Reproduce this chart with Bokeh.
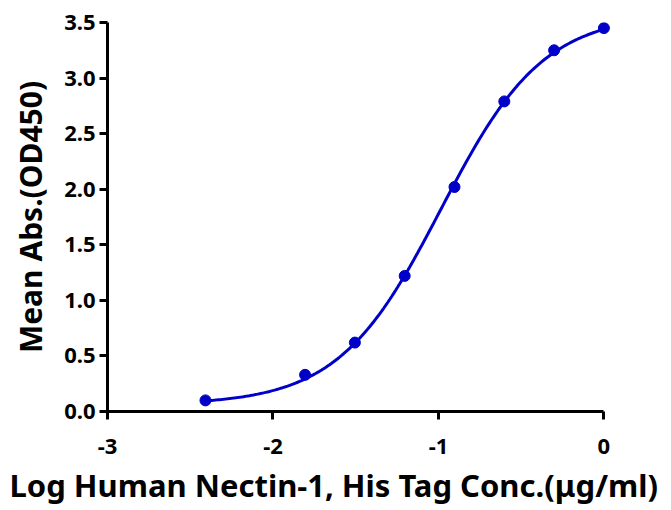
from bokeh.plotting import figure
from bokeh.models import FixedTicker, Range1d, Title
from bokeh.embed import file_html
from bokeh.resources import INLINE
import numpy as np

# ---- data ----
log_conc = [-2.408, -1.806, -1.505, -1.204, -0.903, -0.602, -0.301, 0.0]
mean_abs = [0.10, 0.33, 0.62, 1.22, 2.02, 2.79, 3.25, 3.45]

# 4-parameter logistic fit parameters (estimated)
fit_bottom = 0.06
fit_top = 3.58
fit_log_ec50 = -0.985
fit_hill = 1.4

x_ticks = [-3, -2, -1, 0]
x_tick_labels = ["-3", "-2", "-1", "0"]
y_ticks = [0.0, 0.5, 1.0, 1.5, 2.0, 2.5, 3.0, 3.5]
y_tick_labels = ["0.0", "0.5", "1.0", "1.5", "2.0", "2.5", "3.0", "3.5"]

x_title = "Log Human Nectin-1, His Tag Conc.(\u03bcg/ml)"
y_title = "Mean Abs.(OD450)"

BLUE = "#0000C8"
FONT = "Noto Sans"

p = figure(width=671, height=510, output_backend="svg", toolbar_location=None,
           x_range=Range1d(-3, 0.07), y_range=Range1d(0, 3.5),
           min_border_left=107, min_border_right=56, min_border_top=22, min_border_bottom=99)
p.outline_line_color = None
p.grid.visible = False
p.background_fill_color = "white"
p.border_fill_color = "white"

xs = np.linspace(min(log_conc), max(log_conc), 200)
ys = fit_bottom + (fit_top - fit_bottom) / (1 + 10 ** ((fit_log_ec50 - xs) * fit_hill))
p.line(xs, ys, line_color=BLUE, line_width=3)
p.scatter(log_conc, mean_abs, size=11, fill_color=BLUE, line_color=BLUE)

for ax in (p.xaxis[0], p.yaxis[0]):
    ax.axis_line_width = 3
    ax.axis_line_color = "black"
    ax.major_tick_line_width = 3
    ax.major_tick_line_color = "black"
    ax.major_tick_out = 8
    ax.major_tick_in = 0
    ax.minor_tick_line_color = None
    ax.major_label_text_font = FONT
    ax.major_label_text_font_style = "bold"
    ax.major_label_text_font_size = "22px"
    ax.major_label_text_color = "black"

p.xaxis[0].ticker = FixedTicker(ticks=x_ticks)
p.xaxis[0].major_label_overrides = {t: l for t, l in zip(x_ticks, x_tick_labels)}
p.xaxis[0].bounds = (-3, 0)
p.xaxis[0].major_label_standoff = 19

p.yaxis[0].ticker = FixedTicker(ticks=y_ticks)
p.yaxis[0].major_label_overrides = {t: l for t, l in zip(y_ticks, y_tick_labels)}
p.yaxis[0].major_label_standoff = 4
p.yaxis[0].axis_label = y_title
p.yaxis[0].axis_label_text_font = FONT
p.yaxis[0].axis_label_text_font_style = "bold"
p.yaxis[0].axis_label_text_font_size = "30px"
p.yaxis[0].axis_label_text_color = "black"
p.yaxis[0].axis_label_standoff = 10

p.add_layout(Title(text=x_title, align="left", offset=-98, standoff=10,
                   text_font=FONT, text_font_style="bold", text_font_size="31px",
                   text_color="black"), "below")

open("out.html", "w").write(file_html(p, INLINE))
